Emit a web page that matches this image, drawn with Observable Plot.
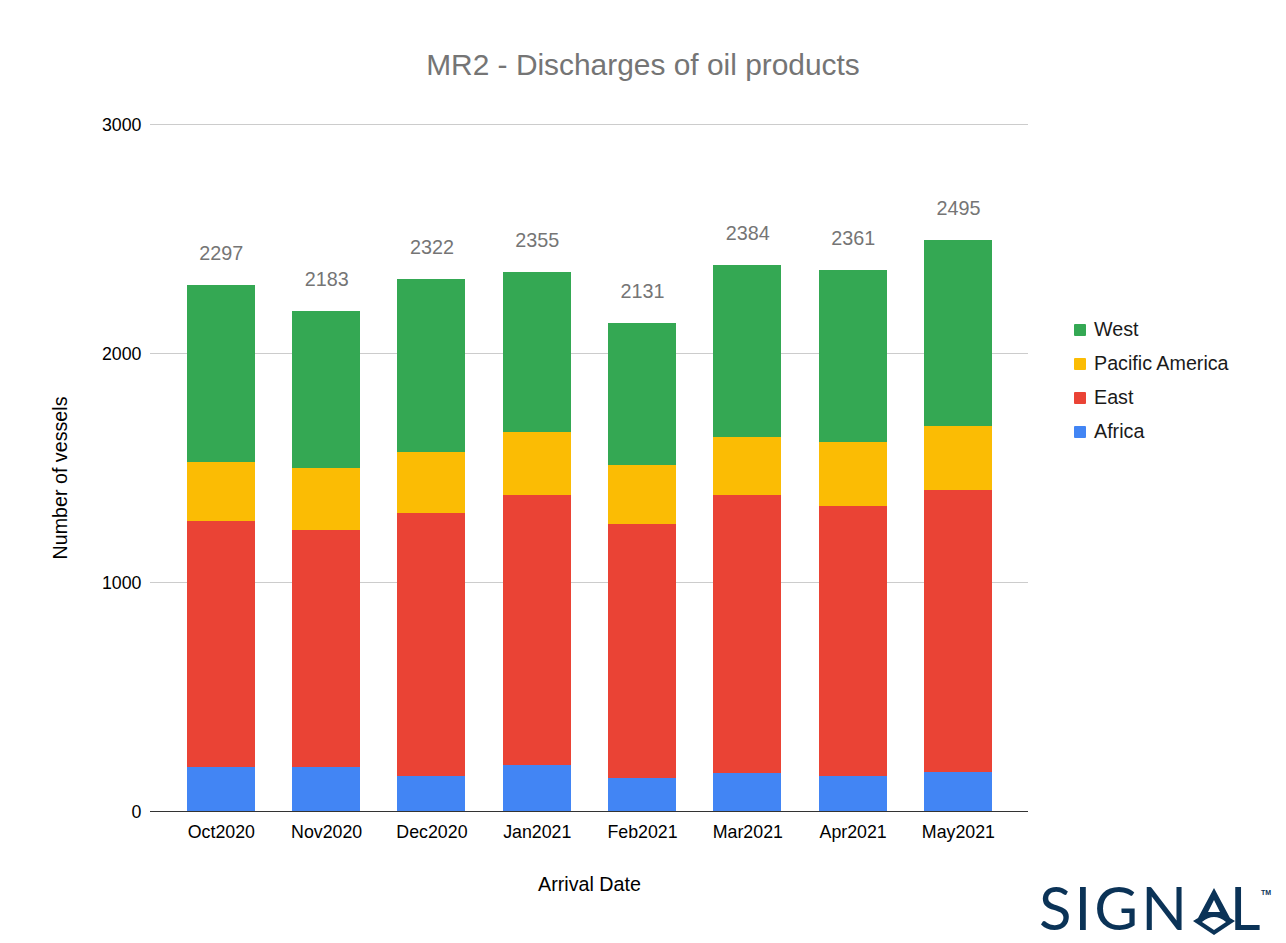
<!DOCTYPE html>
<html>
<head>
<meta charset="utf-8">
<script src="https://cdn.jsdelivr.net/npm/d3@7"></script>
<script src="https://cdn.jsdelivr.net/npm/@observablehq/plot@0.6"></script>
<style>
html,body{margin:0;padding:0;background:#fff;}
body{position:relative;width:1286px;height:943px;overflow:hidden;font-family:"Liberation Sans",Arial,sans-serif;}
#chart{position:absolute;left:0;top:0;z-index:0;}
#chart svg{display:block;}
.title{position:absolute;z-index:1;left:0;width:1286px;top:47px;text-align:center;font-size:29.9px;line-height:36px;color:#757575;margin:0;font-weight:400;}
.legend{position:absolute;z-index:1;left:1074px;top:312px;}
.legend div{height:34px;line-height:34px;font-size:19.7px;color:#1a1a1a;white-space:nowrap;}
.legend i{display:inline-block;width:12px;height:12px;border-radius:1px;margin-right:8px;vertical-align:0px;}
.logo{position:absolute;z-index:1;left:1039px;top:871px;height:72px;width:240px;color:#0b3357;}
.logo .word{position:absolute;left:0;top:3px;font-family:"Lato","Liberation Sans",sans-serif;font-weight:400;font-size:60px;line-height:66px;letter-spacing:3px;white-space:nowrap;}
.logo .word b{font-weight:400;color:transparent;letter-spacing:-1px;}
.logo svg{position:absolute;left:0;top:0;}
.logo .tm{position:absolute;left:222px;top:17px;font-size:7px;line-height:9px;font-weight:700;}
</style>
</head>
<body>
<h1 class="title">MR2 - Discharges of oil products</h1>
<div id="chart"></div>
<div class="legend" id="legend"></div>
<div class="logo"><span class="word">SIGN<b>A</b>L</span><span class="tm">TM</span>
<svg width="240" height="72" viewBox="0 0 240 72">
<path fill="#0b3357" fill-rule="evenodd" d="M175 17 L191 47 L196 50 L175 64 L154 50 L159 47 Z M175 29 L169 41 L181 41 Z M163 51 Q175 41 187 51 L175 59 Z"/>
</svg></div>
<script>
const months = ["Oct2020","Nov2020","Dec2020","Jan2021","Feb2021","Mar2021","Apr2021","May2021"];
const africa = [190,190,155,199,146,164,155,172];
const east = [1078,1039,1148,1183,1109,1214,1179,1228];
const pacificAmerica = [254,271,263,275,254,257,279,283];
const west = [775,683,756,698,622,749,748,812];
const totals = [2297,2183,2322,2355,2131,2384,2361,2495];
const stackOrder = ["Africa","East","Pacific America","West"];
const legendOrder = ["West","Pacific America","East","Africa"];
const colors = ["#4285f4","#ea4335","#fbbc04","#34a853"];
const yTicks = [0,1000,2000,3000];

const seriesValues = [africa,east,pacificAmerica,west];
const rows = stackOrder.flatMap((region,s)=>months.map((month,i)=>({month,region,value:seriesValues[s][i]})));
const totalRows = months.map((month,i)=>({month,total:totals[i]}));

const chart = Plot.plot({
  width:1286,height:943,
  marginLeft:150,marginRight:258,marginTop:124,marginBottom:132,
  style:{fontFamily:'"Liberation Sans",Arial,sans-serif',background:"transparent",overflow:"visible"},
  x:{domain:months,range:[150,1028.8],paddingInner:0.354,paddingOuter:0.35,round:false,label:null},
  y:{domain:[0,3000],label:null},
  color:{domain:stackOrder,range:colors},
  marks:[
    Plot.ruleY(yTicks.slice(1),{stroke:"#cccccc",strokeWidth:1,strokeOpacity:1}),
    Plot.barY(rows,{x:"month",y:"value",fill:"region",order:stackOrder,shapeRendering:"crispEdges"}),
    Plot.ruleY([0],{stroke:"#333333",strokeWidth:1}),
    Plot.axisX({tickSize:0,tickPadding:14,fontSize:17.8,label:null,fill:"#000"}),
    Plot.axisY({ticks:yTicks,tickSize:0,tickPadding:9,dy:0.8,fontSize:17.8,label:null,fill:"#000",tickFormat:d=>String(d)}),
    Plot.text(totalRows,{x:"month",y:"total",text:d=>String(d.total),dy:-31.7,fontSize:19.8,fill:"#757575"}),
    Plot.text(["Arrival Date"],{frameAnchor:"bottom",dy:79,fontSize:19.7,fill:"#000"}),
    Plot.text(["Number of vessels"],{frameAnchor:"left",textAnchor:"middle",dx:-90,dy:10,rotate:-90,fontSize:19.7,fill:"#000"})
  ]
});
document.getElementById("chart").appendChild(chart);

const legend = document.getElementById("legend");
for (const name of legendOrder){
  const row = document.createElement("div");
  const sw = document.createElement("i");
  sw.style.background = colors[stackOrder.indexOf(name)];
  row.appendChild(sw);
  row.appendChild(document.createTextNode(name));
  legend.appendChild(row);
}
</script>
</body>
</html>
